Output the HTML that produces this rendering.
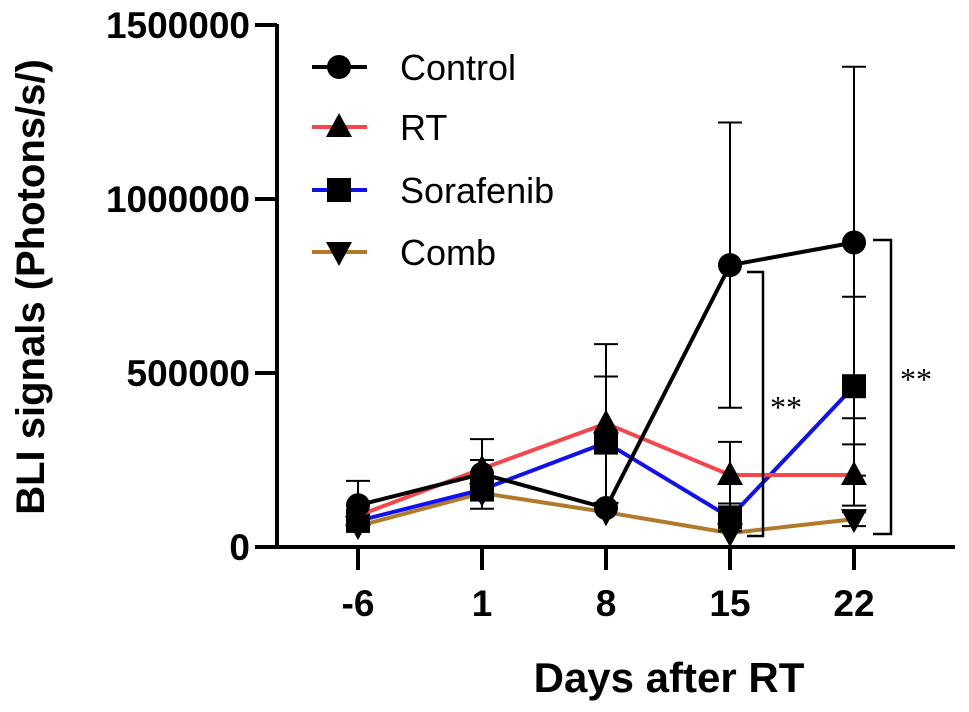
<!DOCTYPE html>
<html><head><meta charset="utf-8"><style>
body{margin:0;background:#fff;}
svg{display:block;font-family:"Liberation Sans",Arial,sans-serif;}
</style></head><body>
<svg id="chart" width="969" height="712"></svg>
<script>
const days = [-6, 1, 8, 15, 22];
const seriesNames = ["Control", "RT", "Sorafenib", "Comb"];
const controlValues = [120000, 210000, 112000, 810000, 875000];
const controlErrors = [70000, 100000, 0, 410000, 505000];
const rtValues = [90000, 225000, 355000, 207000, 207000];
const rtErrors = [0, 25000, 228000, 95000, 88000];
const sorafenibValues = [75000, 165000, 300000, 85000, 462000];
const sorafenibErrors = [0, 0, 190000, 40000, 257000];
const combValues = [60000, 155000, 100000, 40000, 80000];
const combErrors = [0, 0, 0, 0, 20000];
const yTicks = [0, 500000, 1000000, 1500000];

const NS="http://www.w3.org/2000/svg";
const svg=document.getElementById('chart');
function xs(d){return 358+(d+6)*(124/7);}
function ys(v){return 547-v*348/1000000;}
function mk(tag,attrs,parent){const e=document.createElementNS(NS,tag);for(const k in attrs)e.setAttribute(k,attrs[k]);(parent||svg).appendChild(e);return e;}

const axes=mk('g',{});


mk('line',{x1:277,y1:24,x2:277,y2:549,stroke:'#000','stroke-width':4},axes);
mk('line',{x1:255,y1:547,x2:955,y2:547,stroke:'#000','stroke-width':4},axes);
yTicks.forEach(t=>{
  mk('line',{x1:255,y1:ys(t),x2:277,y2:ys(t),stroke:'#000','stroke-width':4},axes);
  const tx=mk('text',{x:250,y:ys(t)+13,'text-anchor':'end','font-size':37,'font-weight':'bold'},axes);
  tx.textContent=t;
  
  
});
days.forEach(d=>{
  mk('line',{x1:xs(d),y1:547,x2:xs(d),y2:570,stroke:'#000','stroke-width':4},axes);
  const tx=mk('text',{x:xs(d),y:616,'text-anchor':'middle','font-size':37,'font-weight':'bold'},axes);
  tx.textContent=d;
  
  
});
const xt=mk('text',{x:669,y:692,'text-anchor':'middle','font-size':42,'font-weight':'bold'});
xt.textContent='Days after RT';


const yt=mk('text',{x:0,y:0,transform:'translate(44,287) rotate(-90)','text-anchor':'middle','font-size':40,'font-weight':'bold'});
yt.textContent='BLI signals (Photons/s/)';



function marker(shape,x,y,p){
  if(shape==='circle')return mk('circle',{cx:x,cy:y,r:12,fill:'#000'},p);
  if(shape==='square')return mk('rect',{x:x-12,y:y-12,width:24,height:24,fill:'#000'},p);
  if(shape==='up')return mk('polygon',{points:`${x},${y-14} ${x-13},${y+10} ${x+13},${y+10}`,fill:'#000'},p);
  return mk('polygon',{points:`${x},${y+14} ${x-13},${y-10} ${x+13},${y-10}`,fill:'#000'},p);
}
const series=[
 {vals:controlValues,errs:controlErrors,color:'#000',shape:'circle'},
 {vals:rtValues,errs:rtErrors,color:'#f4464b',shape:'up'},
 {vals:sorafenibValues,errs:sorafenibErrors,color:'#1010f0',shape:'square'},
 {vals:combValues,errs:combErrors,color:'#b07a2a',shape:'down'}
];
[3,2,1,0].forEach(i=>{
  const s=series[i];
  const g=mk('g',{});
  
  
  s.vals.forEach((v,j)=>{
    if(s.errs[j]>0){
      const x=xs(days[j]);
      mk('line',{x1:x,y1:ys(v+s.errs[j]),x2:x,y2:ys(Math.max(0,v-s.errs[j])),stroke:'#000','stroke-width':2},g);
      mk('line',{x1:x-12,y1:ys(v+s.errs[j]),x2:x+12,y2:ys(v+s.errs[j]),stroke:'#000','stroke-width':2},g);
      mk('line',{x1:x-12,y1:ys(Math.max(0,v-s.errs[j])),x2:x+12,y2:ys(Math.max(0,v-s.errs[j])),stroke:'#000','stroke-width':2},g);
    }
  });
  mk('polyline',{points:s.vals.map((v,j)=>xs(days[j])+','+ys(v)).join(' '),fill:'none',stroke:s.color,'stroke-width':4},g);
  s.vals.forEach((v,j)=>{
    const m=marker(s.shape,xs(days[j]),ys(v),g);
    
    
  });
});
const legY=[67,127,190,252];
series.forEach((s,i)=>{
  const g=mk('g',{});
  
  
  mk('line',{x1:312,y1:legY[i],x2:367,y2:legY[i],stroke:s.color,'stroke-width':4},g);
  marker(s.shape,339,legY[i],g);
  const t=mk('text',{x:400,y:legY[i]+13,'font-size':36},g);
  t.textContent=seriesNames[i];
});
function bracket(x1,x2,yTop,yBot,tx,ty){
  const g=mk('g',{});
  
  
  mk('polyline',{points:`${x1},${yTop} ${x2},${yTop} ${x2},${yBot} ${x1},${yBot}`,fill:'none',stroke:'#000','stroke-width':2.5},g);
  const t=mk('text',{x:tx,y:ty,'font-size':32,'font-family':'Liberation Serif, serif'},g);
  t.textContent='**';
}
bracket(747,763,272,536,770,418);
bracket(873,891,240,534,900,390);
</script>
</body></html>
